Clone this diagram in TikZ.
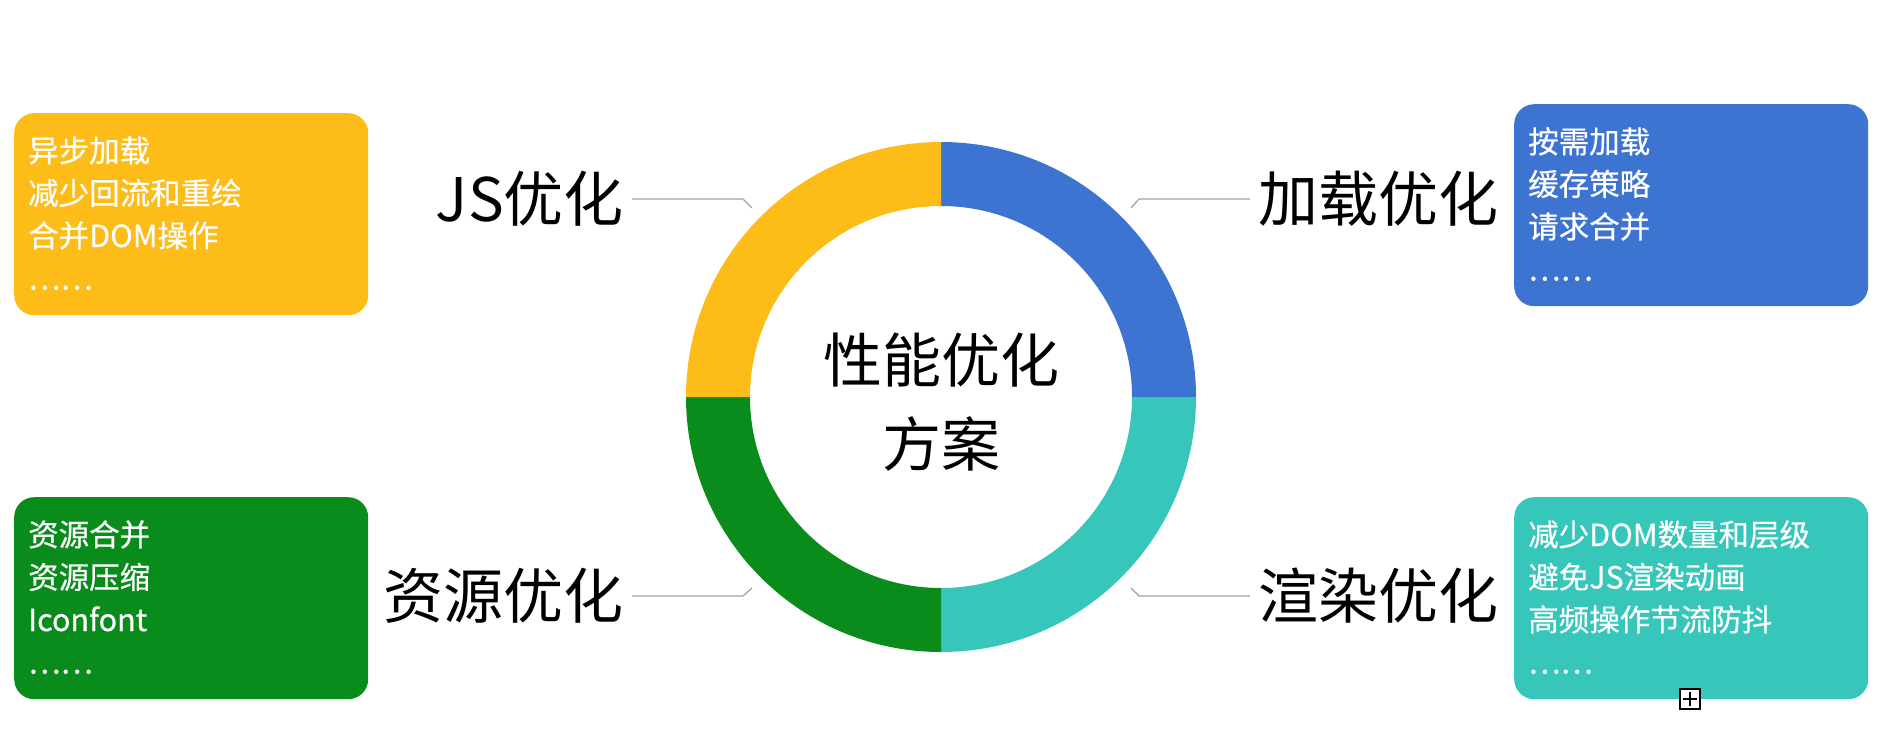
\documentclass[tikz,border=0pt]{standalone}
\usepackage{fontspec}
\setmainfont{Noto Sans CJK SC}
\newfontfamily\cardfont[FakeBold=0.5]{Noto Sans CJK SC}
\usetikzlibrary{positioning, calc}
\definecolor{jsyellow}{HTML}{FDBC17}
\definecolor{loadblue}{HTML}{3D74D2}
\definecolor{rendteal}{HTML}{36C6BA}
\definecolor{resgreen}{HTML}{098C1C}
\definecolor{leadgray}{HTML}{A0A0A0}

\begin{document}
\begin{tikzpicture}[x=1pt, y=-1pt,
  card/.style = {fill=#1, rounded corners=20pt, minimum width=354pt, minimum height=202pt, inner sep=0pt, anchor=north west},
  item/.style = {text=white, font=\cardfont\fontsize{30.5}{36}\selectfont, inner sep=0pt, anchor=base west},
  topic/.style = {font=\fontsize{60}{72}\selectfont, inner xsep=8pt, inner ysep=0pt},
  title/.style = {font=\fontsize{59}{84}\selectfont, align=center, inner sep=0pt},
  leader/.style = {draw=leadgray, line width=1.2pt}]
\useasboundingbox (0,0) rectangle (1880,750);

% ring
\coordinate (c) at (941,397);
\foreach \a/\col in {-90/loadblue, 0/rendteal, 90/resgreen, 180/jsyellow}
  \fill[\col] ($(c)+(\a:255)$) arc[start angle=\a, delta angle=90, radius=255]
    -- ($(c)+(\a+90:191)$) arc[start angle=\a+90, delta angle=-90, radius=191] -- cycle;
\node[title] (plan) at ($(c)+(0,5)$) {性能优化\\方案};

% topics
\node[topic, anchor=east] (js) at (632,199) {JS优化};
\node[topic, anchor=west] (load) at (1250,199) {加载优化};
\node[topic, anchor=east] (res) at (632,596) {资源优化};
\node[topic, anchor=west] (rend) at (1250,596) {渲染优化};

\coordinate (jsend) at (752,208);
\coordinate (loadend) at (1131,208);
\coordinate (resend) at (752,588);
\coordinate (rendend) at (1131,588);
\draw[leader] (js.east) -- ++(111,0) -- (jsend);
\draw[leader] (load.west) -- ++(-111,0) -- (loadend);
\draw[leader] (res.east) -- ++(111,0) -- (resend);
\draw[leader] (rend.west) -- ++(-111,0) -- (rendend);

% cards
\node[card=jsyellow] (jsbox) at (14,113) {};
\node[card=loadblue] (loadbox) at (1514,104) {};
\node[card=resgreen] (resbox) at (14,497) {};
\node[card=rendteal] (rendbox) at (1514,497) {};

\foreach \t [count=\i] in {异步加载, 减少回流和重绘, 合并DOM操作, ……}
  \node[item] (js-\i) at ($(jsbox.north west)+(14,49+42.5*\i-42.5)$) {\t};
\foreach \t [count=\i] in {按需加载, 缓存策略, 请求合并, ……}
  \node[item] (load-\i) at ($(loadbox.north west)+(14,49+42.5*\i-42.5)$) {\t};
\foreach \t [count=\i] in {资源合并, 资源压缩, Iconfont, ……}
  \node[item] (res-\i) at ($(resbox.north west)+(14,49+42.5*\i-42.5)$) {\t};
\foreach \t [count=\i] in {减少DOM数量和层级, 避免JS渲染动画, 高频操作节流防抖, ……}
  \node[item] (rend-\i) at ($(rendbox.north west)+(14,49+42.5*\i-42.5)$) {\t};

% expand mark
\node[draw, line width=2.5pt, fill=white, minimum size=20pt, inner sep=0pt] (plus) at (1690,699) {};
\draw[line width=2.5pt] (plus.center) ++(-7,0) -- ++(14,0) (plus.center) ++(0,-7) -- ++(0,14);
\end{tikzpicture}
\end{document}
